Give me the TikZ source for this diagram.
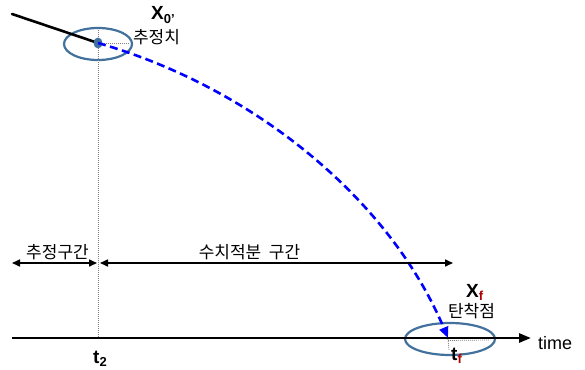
\documentclass[tikz,border=0pt]{standalone}
\usepackage{fontspec}
\setmainfont{Liberation Sans}
\newfontfamily\kr{Noto Sans CJK KR}
\usetikzlibrary{arrows.meta}
\definecolor{ellc}{HTML}{41719C}
\definecolor{subred}{HTML}{B00000}
\begin{document}
\begin{tikzpicture}[x=1pt,y=-1pt,
  ell/.style={draw=ellc,line width=2.2pt},
  dotline/.style={draw=gray,line width=0.7pt,dash pattern=on 1pt off 1pt},
  axisline/.style={draw=black,line width=2.6pt},
  span/.style={draw=black,line width=1.6pt,{Triangle[length=8pt,width=7pt]}-{Triangle[length=8pt,width=7pt]}},
  traj/.style={draw=blue,line width=2.6pt,dash pattern=on 8pt off 4.5pt,-{Triangle[length=11pt,width=9pt]}},
  lab/.style={inner sep=0pt},
  kor/.style={inner sep=0pt,font=\kr\fontsize{17pt}{19pt}\selectfont},
  big/.style={inner sep=0pt,font=\bfseries\fontsize{19pt}{21pt}\selectfont}]
\useasboundingbox (0,0) rectangle (585,369);
% coordinates
\coordinate (s) at (12,14);
\coordinate (x0) at (98,43);
\coordinate (x0r) at (130,43);
\coordinate (vtop) at (98,30);
\coordinate (vbot) at (98,338);
\coordinate (axL) at (12,338);
\coordinate (axR) at (531,338);
\coordinate (xf) at (448,338);
\coordinate (xfd) at (449,350);
\coordinate (xfr) at (490,340);
\coordinate (aL) at (12,263);
\coordinate (aM1) at (97,263);
\coordinate (aM2) at (100,263);
\coordinate (aR) at (453,263);
% ellipses
\draw[ell] (98,44) ellipse [x radius=34pt,y radius=16pt];
\draw[ell] (450,339) ellipse [x radius=45pt,y radius=16pt];
% dotted guides
\draw[dotline] (vtop) -- (vbot);
\draw[dotline] (x0) -- (x0r);
\draw[dotline] (448,339) -- (xfd);
\draw[dotline] (448,340.5) -- (xfr);
% lines
\draw[axisline,line cap=round] (s) -- (x0);
\draw[axisline,-{Triangle[length=12pt,width=9pt]}] (axL) -- (axR);
\fill[ellc] (x0) ellipse [x radius=4.5pt,y radius=5.5pt];
\draw[traj] (x0) .. controls (255,88) and (390,200) .. (xf);
% span arrows
\draw[span] (aL) -- (aM1);
\draw[span] (aM2) -- (aR);
% labels
\node[big,anchor=base west] (lx0) at (151,20) {X\textsubscript{\fontsize{13pt}{13pt}\selectfont0'}};
\node[kor] (lest) at (156.5,37.5) {추정치};
\node[big,anchor=base west] (lxf) at (466,297) {X\textsubscript{\fontsize{13pt}{13pt}\selectfont\color{subred}f}};
\node[kor] (limp) at (471.5,311.5) {탄착점};
\node[kor] (lr1) at (57.5,252.5) {추정구간};
\node[kor] (lr2) at (249.5,252.5) {수치적분\hspace{0.45em}구간};
\node[big,anchor=base west] (lt2) at (93,363) {t\textsubscript{\fontsize{13pt}{13pt}\selectfont2}};
\node[big,anchor=base west] (ltf) at (451,360) {t\textsubscript{\fontsize{13pt}{13pt}\selectfont\color{subred}f}};
\node[lab,font=\fontsize{18pt}{20pt}\selectfont,anchor=base west] (ltime) at (538,349) {time};
\end{tikzpicture}
\end{document}
